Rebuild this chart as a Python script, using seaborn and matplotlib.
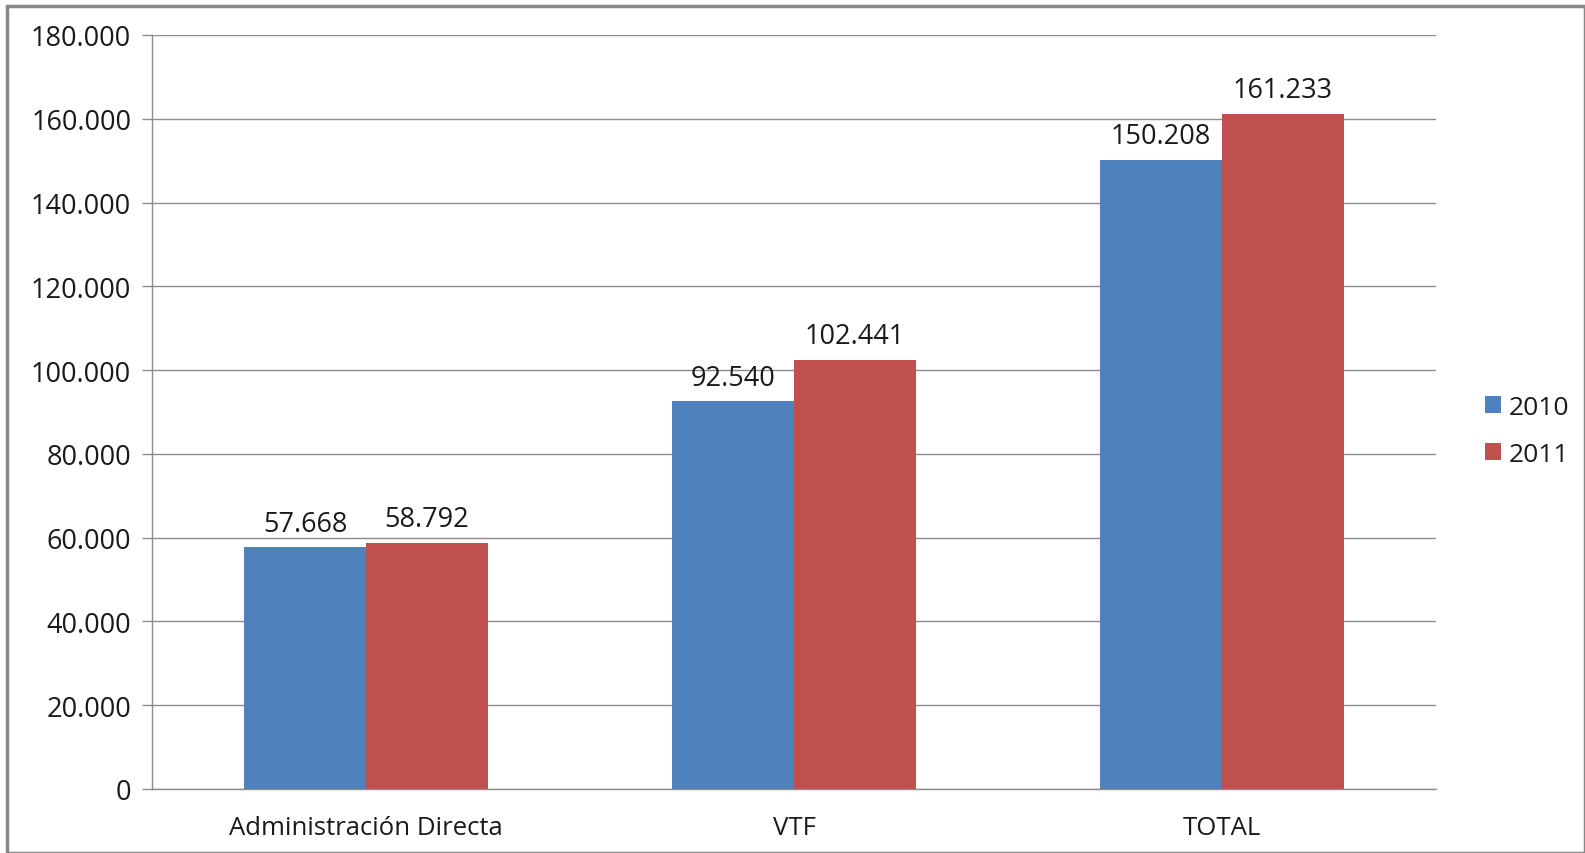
import seaborn as sns
import pandas as pd
import matplotlib.pyplot as plt
from matplotlib.patches import Rectangle

categories = ["Administración Directa", "VTF", "TOTAL"]
years = ["2010", "2011"]
values_2010 = [57668, 92540, 150208]
values_2011 = [58792, 102441, 161233]
yticks = [0, 20000, 40000, 60000, 80000, 100000, 120000, 140000, 160000, 180000]

df = pd.DataFrame({
    "cat": categories * 2,
    "year": [years[0]] * 3 + [years[1]] * 3,
    "val": values_2010 + values_2011,
})

def fmt(v):
    return f"{v:,.0f}".replace(",", ".")

sns.set_style("white")
plt.rcParams["font.family"] = ["Open Sans", "DejaVu Sans"]

fig = plt.figure(figsize=(15.85, 8.54), dpi=100)
ax = fig.add_axes([152 / 1585, 1 - 790 / 854, (1436 - 152) / 1585, (790 - 36) / 854])

sns.barplot(data=df, x="cat", y="val", hue="year", order=categories, hue_order=years,
            palette=["#4F81BD", "#C0504D"], width=0.57, gap=0, saturation=1,
            errorbar=None, linewidth=0, ax=ax)

for cont in ax.containers:
    ax.bar_label(cont, labels=[fmt(v) for v in cont.datavalues], padding=7, fontsize=19.5, color="#1a1a1a")

ax.set_ylim(0, 180000)
ax.set_xlim(-0.5, 2.5)
ax.set_yticks(yticks)
ax.set_yticklabels([fmt(v) for v in yticks], fontsize=19.5, color="#1a1a1a")
ax.yaxis.grid(True, color="#8c8c8c", linewidth=1)
ax.set_axisbelow(True)
ax.set_xlabel("")
ax.set_ylabel("")
ax.set_xticks([0, 1, 2])
ax.set_xticklabels(categories, fontsize=18.5, color="#1a1a1a")
ax.set_xticks([-0.5, 0.5, 1.5, 2.5], minor=True)
ax.tick_params(axis="x", which="major", length=0, pad=19)
ax.tick_params(axis="x", which="minor", length=7, width=1, color="#8c8c8c", direction="out")
ax.tick_params(axis="y", length=7, width=1, color="#8c8c8c", direction="out", left=True, pad=8)
for s in ["top", "right"]:
    ax.spines[s].set_visible(False)
for s in ["left", "bottom"]:
    ax.spines[s].set_color("#8c8c8c")
    ax.spines[s].set_linewidth(1)

leg = ax.legend(loc="center left", bbox_to_anchor=(1.02, 0.475), frameon=False, fontsize=19,
                handlelength=0.6, handleheight=0.6, handletextpad=0.3, labelspacing=0.85)
for t in leg.get_texts():
    t.set_color("#1a1a1a")

fig.patches.append(Rectangle((7 / 1585, 0), 1 - 7 / 1585, 1 - 7 / 854, transform=fig.transFigure,
                             fill=False, edgecolor="#888888", linewidth=2.5))

fig.savefig("out.png", dpi=100)
